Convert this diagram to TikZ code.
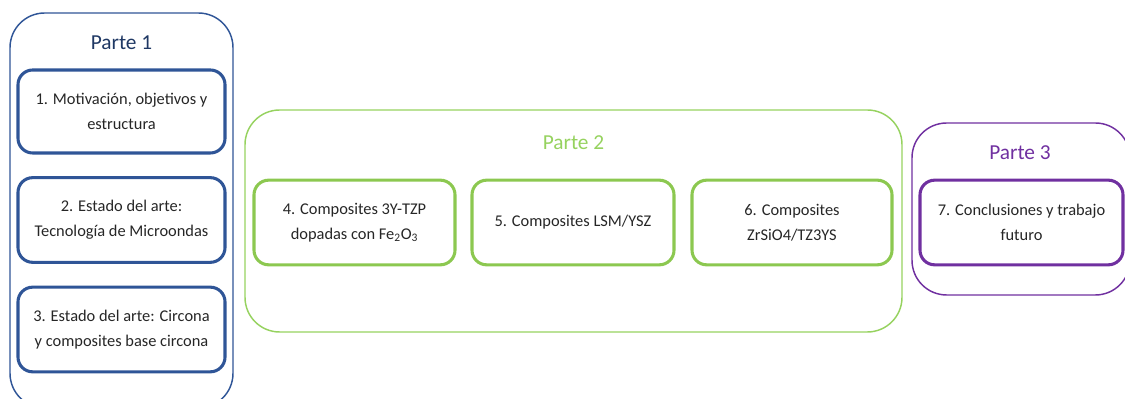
\documentclass[tikz,border=0pt]{standalone}
\usepackage{fontspec}
\setmainfont{Carlito}
\usepackage{xcolor}
\usepackage{tikz}
\usetikzlibrary{positioning,calc}
\definecolor{azul}{RGB}{47,85,151}
\definecolor{azulosc}{RGB}{31,56,100}
\definecolor{verde}{RGB}{140,200,80}
\definecolor{verdeclaro}{RGB}{150,210,95}
\definecolor{morado}{RGB}{112,48,160}
\definecolor{texto}{RGB}{38,38,38}

\begin{document}
\begin{tikzpicture}[x=0.75pt, y=0.75pt,
  parte/.style={draw, line width=1.1pt, rounded corners=26pt, inner sep=0pt},
  capitulo/.style={draw, line width=2.3pt, rounded corners=11pt, align=center,
    inner sep=0pt, minimum height=63.5pt, text=texto,
    font=\fontsize{12.3}{18.75}\selectfont},
  titulo/.style={font=\fontsize{16}{19}\selectfont}]
  \useasboundingbox (0,0) rectangle (1125,399);
  \clip (0,0) rectangle (1125,399);
  % Parte 1
  \node[parte, azul, minimum width=167.25pt, minimum height=296.25pt] (p1) at (121.5,188.5) {};
  \node[titulo, text=azulosc] (t1) at (121.5,356) {Parte 1};
  \node[capitulo, draw=azul, minimum width=155.25pt, minimum height=62.25pt] (c1) at (121.5,287.5)
    {1. Motivación, objetivos y\\estructura};
  \node[capitulo, draw=azul, minimum width=155.25pt] (c2) at (121.5,179)
    {2. Estado del arte:\\Tecnología de Microondas};
  \node[capitulo, draw=azul, minimum width=155.25pt] (c3) at (121.5,69.5)
    {3. Estado del arte: Circona\\y composites base circona};
  % Parte 2
  \node[parte, verdeclaro, minimum width=492.75pt, minimum height=166.5pt] (p2) at (573.5,178) {};
  \node[titulo, text=verdeclaro] (t2) at (573.5,256) {Parte 2};
  \node[capitulo, draw=verde, minimum width=150.75pt] (c4) at (354.5,176.5)
    {4. Composites 3Y-TZP\\dopadas con Fe\textsubscript{2}O\textsubscript{3}};
  \node[capitulo, draw=verde, minimum width=151.5pt] (c5) at (573,176.5)
    {5. Composites LSM/YSZ};
  \node[capitulo, draw=verde, minimum width=150pt] (c6) at (792,176.5)
    {6. Composites\\ZrSiO4/TZ3YS};
  % Parte 3
  \node[parte, morado, minimum width=163.5pt, minimum height=129pt] (p3) at (1021,190) {};
  \node[titulo, text=morado] (t3) at (1020,246) {Parte 3};
  \node[capitulo, draw=morado, minimum width=152.25pt] (c7) at (1021.5,176.5)
    {7. Conclusiones y trabajo\\futuro};
\end{tikzpicture}
\end{document}
